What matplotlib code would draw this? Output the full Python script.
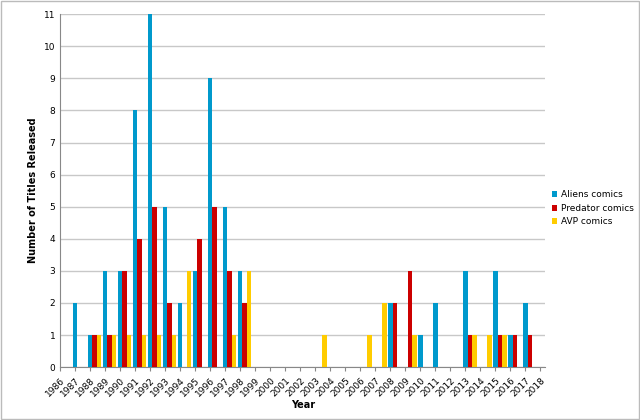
import numpy as np
import matplotlib.pyplot as plt

years = list(range(1986, 2019))
aliens = [0, 0, 2, 1, 3, 3, 8, 11, 5, 2, 3, 9, 5, 3, 0, 0, 0, 0, 0, 0, 0, 0, 0, 2, 0, 1, 2, 0, 3, 0, 3, 1, 2]
predator = [0, 0, 0, 1, 1, 3, 4, 5, 2, 0, 4, 5, 3, 2, 0, 0, 0, 0, 0, 0, 0, 0, 0, 2, 3, 0, 0, 0, 1, 0, 1, 1, 1]
avp = [0, 0, 0, 1, 1, 1, 1, 1, 1, 3, 0, 0, 1, 3, 0, 0, 0, 0, 1, 0, 0, 1, 2, 0, 1, 0, 0, 0, 1, 1, 1, 0, 0]

fig = plt.figure(figsize=(6.4, 4.2), dpi=100)
ax = fig.add_axes([0.094, 0.126, 0.758, 0.84])
x = np.arange(len(years))
w = 0.3
# bars in the reference sit left of their year labels
shift = -0.7
ax.bar(x + shift - w, aliens, w, color="#0099CC", label="Aliens comics", zorder=3)
ax.bar(x + shift, predator, w, color="#CC0000", label="Predator comics", zorder=3)
ax.bar(x + shift + w, avp, w, color="#FFCC00", label="AVP comics", zorder=3)

ax.set_xlim(0, 32.33)
ax.set_ylim(0, 11)
ax.set_yticks(range(12))
ax.set_xticks(x)
ax.set_xticklabels(years, rotation=45, ha="right", rotation_mode="anchor", fontsize=6.5)
ax.tick_params(axis="y", labelsize=6.5, length=0)
ax.tick_params(axis="x", length=3, color="#888888")
ax.grid(axis="y", color="#C8C8C8", linewidth=1, zorder=0)
for s in ["top", "right"]:
    ax.spines[s].set_visible(False)
ax.spines["left"].set_color("#888888")
ax.spines["bottom"].set_color("#888888")
ax.set_xlabel("Year", fontsize=7, fontweight="bold", labelpad=1)
ax.set_ylabel("Number of Titles Released", fontsize=7, fontweight="bold")
ax.legend(loc="center left", bbox_to_anchor=(1.0, 0.45), frameon=False, fontsize=6.5,
          handlelength=0.6, handleheight=0.6, handletextpad=0.4, borderaxespad=0.3)
fig.patches.append(plt.Rectangle((0.002, 0.002), 0.996, 0.996, transform=fig.transFigure,
                                 fill=False, edgecolor="#BBBBBB", linewidth=1))
fig.savefig("out.png")
